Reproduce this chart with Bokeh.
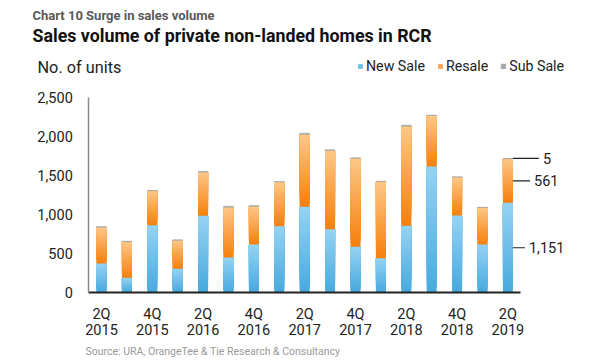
import numpy as np
from bokeh.plotting import figure
from bokeh.models import (ColumnDataSource, Range1d, FixedTicker, NumeralTickFormatter,
                          Label, Legend, LegendItem, Arrow)
from bokeh.embed import file_html
from bokeh.resources import INLINE

# ---------------- data ----------------
quarters = ["2Q 2015", "3Q 2015", "4Q 2015", "1Q 2016", "2Q 2016", "3Q 2016", "4Q 2016",
            "1Q 2017", "2Q 2017", "3Q 2017", "4Q 2017", "1Q 2018", "2Q 2018", "3Q 2018",
            "4Q 2018", "1Q 2019", "2Q 2019"]
new_sale = [375, 192, 864, 307, 984, 451, 617, 851, 1099, 813, 588, 442, 856, 1614, 988, 617, 1151]
resale = [464, 462, 439, 364, 558, 644, 489, 566, 926, 1007, 1131, 979, 1274, 651, 490, 473, 561]
sub_sale = [8, 6, 5, 6, 8, 12, 10, 6, 15, 8, 6, 6, 12, 5, 5, 4, 5]
series_names = ["New Sale", "Resale", "Sub Sale"]
y_ticks = [0, 500, 1000, 1500, 2000, 2500]

FONT = "Roboto"
BAR_W = 0.39
N = len(quarters)
NB = 24  # gradient bands per segment

# layout geometry (pixels in the canvas, measured from top-left)
W, H = 600, 360
PLOT_L, PLOT_B, PLOT_T = 88.3, 292.3, 96.7   # y-axis x, baseline y, top (2500) y
PX_X = 25.4                                   # pixels per category slot
PX_Y = (PLOT_B - PLOT_T) / y_ticks[-1]        # pixels per unit

x0 = -0.5 - PLOT_L / PX_X
x1 = -0.5 + (W - PLOT_L) / PX_X
y0 = -(H - PLOT_B) / PX_Y
y1 = y_ticks[-1] + PLOT_T / PX_Y

p = figure(width=W, height=H, output_backend="svg", toolbar_location=None, title=None,
           x_range=Range1d(x0, x1), y_range=Range1d(y0, y1),
           min_border_left=0, min_border_right=0, min_border_top=0, min_border_bottom=0)
p.outline_line_color = None
p.xgrid.visible = False
p.ygrid.visible = False
p.background_fill_color = "white"
p.border_fill_color = "white"

def hex2rgb(h):
    h = h.lstrip("#")
    return np.array([int(h[i:i + 2], 16) for i in (0, 2, 4)], dtype=float)

def lerp(c1, c2, t):
    c = hex2rgb(c1) * (1 - t) + hex2rgb(c2) * t
    return "#%02x%02x%02x" % tuple(int(round(v)) for v in c)

def gradient_bars(bottoms, heights, c_bottom, c_top, n=NB):
    # overlapping bands: band k spans from its own bottom to the segment top,
    # drawn bottom-up so the visible part of each is one gradient step (no seams)
    xs, b, t, cols = [], [], [], []
    for i, (b0, h) in enumerate(zip(bottoms, heights)):
        for k in range(n):
            xs.append(i)
            b.append(b0 + h * k / n)
            t.append(b0 + h)
            cols.append(lerp(c_bottom, c_top, (k + 0.5) / n))
    src = ColumnDataSource(dict(x=xs, bottom=b, top=t, color=cols))
    return p.vbar(x="x", bottom="bottom", top="top", width=BAR_W, fill_color="color",
                  line_color=None, source=src)

idx = list(range(N))
new_arr = np.array(new_sale, dtype=float)
res_arr = np.array(resale, dtype=float)
sub_arr = np.array(sub_sale, dtype=float)

r_new = gradient_bars(np.zeros(N), new_arr, "#47a9df", "#95d3f3")
r_res = gradient_bars(new_arr, res_arr, "#f67f0c", "#fdc888")
r_sub = p.vbar(x=idx, bottom=new_arr + res_arr, top=new_arr + res_arr + sub_arr, width=BAR_W,
               fill_color="#a5a5a5", line_color="#a5a5a5", line_width=0.5)

# axes (drawn at fixed locations inside the canvas)
p.yaxis.fixed_location = -0.5
p.yaxis.bounds = (y_ticks[0], y_ticks[-1])
p.yaxis.ticker = FixedTicker(ticks=y_ticks)
p.yaxis.formatter = NumeralTickFormatter(format="0,0")
p.yaxis.major_label_text_font = FONT
p.yaxis.major_label_text_font_size = "14.5px"
p.yaxis.major_label_text_color = "#222222"
p.yaxis.axis_line_color = "#8a8a8a"
p.yaxis.axis_line_width = 1.5
p.yaxis.major_tick_line_color = None
p.yaxis.minor_tick_line_color = None
p.yaxis.major_label_standoff = 10

p.xaxis.fixed_location = 0
p.xaxis.bounds = (-0.5, N - 0.5)
p.xaxis.ticker = FixedTicker(ticks=idx[::2])
p.xaxis.major_label_overrides = {i: quarters[i].replace(" ", "\n") for i in idx[::2]}
p.xaxis.major_label_text_font = FONT
p.xaxis.major_label_text_font_size = "14.5px"
p.xaxis.major_label_text_line_height = 0.97
p.xaxis.major_label_text_color = "#222222"
p.xaxis.axis_line_color = "#222222"
p.xaxis.axis_line_width = 2
p.xaxis.major_tick_line_color = None
p.xaxis.minor_tick_line_color = None
p.xaxis.major_label_standoff = 7

# callouts for last bar
last = N - 1
n_last, r_last, s_last = new_sale[last], resale[last], sub_sale[last]
callouts = [
    (n_last + r_last + s_last, last + 1.22, str(s_last)),
    (n_last + r_last / 2, last + 0.87, f"{r_last:,}"),
    (n_last / 2, last + 0.67, f"{n_last:,}"),
]
for yv, xend, txt in callouts:
    p.add_layout(Arrow(end=None, x_start=last + BAR_W / 2, y_start=yv, x_end=xend, y_end=yv,
                       line_color="#222222", line_width=1.2))
    p.add_layout(Label(x=xend, y=yv, x_offset=4, text=txt, text_font=FONT,
                       text_font_size="14.5px", text_color="#222222",
                       text_baseline="middle", text_align="left"))

# legend (uses the real renderers; index picks a mid-gradient band colour)
legend = Legend(items=[LegendItem(label=series_names[0], renderers=[r_new], index=NB // 2),
                       LegendItem(label=series_names[1], renderers=[r_res], index=NB // 2),
                       LegendItem(label=series_names[2], renderers=[r_sub], index=0)],
                orientation="horizontal", location=(357, H - 74),
                label_text_font=FONT, label_text_font_size="14.2px", label_text_color="#222222",
                glyph_width=6, glyph_height=6, label_standoff=3, spacing=12,
                padding=0, margin=0, border_line_color=None, background_fill_alpha=0,
                label_height=16)
p.add_layout(legend, "center")

# texts (screen units, y given from the canvas top)
def slabel(x, y_top, text, size, color, style="normal"):
    p.add_layout(Label(x=x, y=H - y_top, x_units="screen", y_units="screen", text=text,
                       text_font=FONT, text_font_size=size, text_color=color,
                       text_font_style=style, text_baseline="middle", text_align="left"))

slabel(32, 15, "Chart 10 Surge in sales volume", "13px", "#595959", "bold")
slabel(32, 35, "Sales volume of private non-landed homes in RCR", "17.8px", "#111111", "bold")
slabel(37, 66.5, "No. of units", "16.3px", "#222222")
slabel(85, 351, "Source: URA, OrangeTee & Tie Research & Consultancy", "10.5px", "#9a9a9a")

open("out.html", "w").write(file_html(p, INLINE))
